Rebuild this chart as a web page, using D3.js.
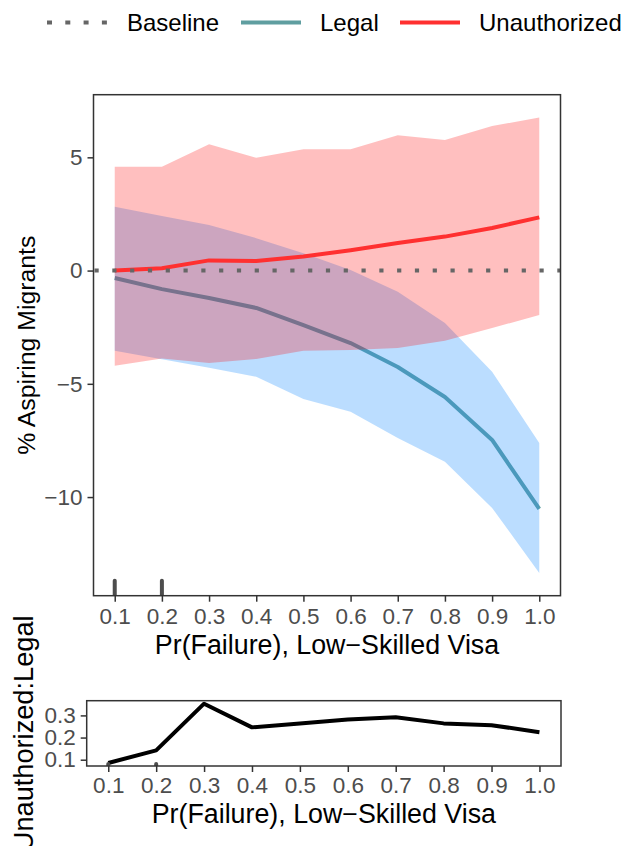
<!DOCTYPE html>
<html>
<head>
<meta charset="utf-8">
<script src="https://cdn.jsdelivr.net/npm/d3@7"></script>
<style>
  html, body { margin: 0; padding: 0; background: #fff; }
  svg { display: block; font-family: "Liberation Sans", Arial, Helvetica, sans-serif; }
</style>
</head>
<body>
<svg id="chart" width="625" height="846"></svg>
<script>
// Probability that a low-skilled visa application fails
const failProb = [0.1, 0.2, 0.3, 0.4, 0.5, 0.6, 0.7, 0.8, 0.9, 1.0];

// Change in % of aspiring migrants, legal route (estimate and interval)
const legalEst   = [-0.33, -0.82, -1.21, -1.65, -2.41, -3.20, -4.26, -5.58, -7.48, -10.52];
const legalLower = [-3.54, -3.92, -4.29, -4.69, -5.67, -6.23, -7.39, -8.44, -10.48, -13.35];
const legalUpper = [2.82, 2.41, 2.01, 1.43, 0.77, 0.02, -0.94, -2.32, -4.47, -7.61];

// Change in % of aspiring migrants, unauthorized route
const unauthEst   = [0.00, 0.10, 0.45, 0.42, 0.62, 0.90, 1.22, 1.50, 1.88, 2.35];
const unauthLower = [-4.20, -3.88, -4.08, -3.90, -3.54, -3.51, -3.42, -3.10, -2.54, -1.96];
const unauthUpper = [4.58, 4.58, 5.58, 4.98, 5.36, 5.36, 5.98, 5.76, 6.38, 6.76];

// Ratio of unauthorized to legal
const ratio = [0.085, 0.142, 0.353, 0.246, 0.264, 0.282, 0.292, 0.264, 0.256, 0.224];

// Rug positions
const rugX = [0.1, 0.2];

// Tick values and labels
const xTicks = [0.1, 0.2, 0.3, 0.4, 0.5, 0.6, 0.7, 0.8, 0.9, 1.0];
const xTickLabels = ["0.1", "0.2", "0.3", "0.4", "0.5", "0.6", "0.7", "0.8", "0.9", "1.0"];
const yTicksTop = [-10, -5, 0, 5];
const yTickLabelsTop = ["\u221210", "\u22125", "0", "5"];
const yTicksBottom = [0.1, 0.2, 0.3];
const yTickLabelsBottom = ["0.1", "0.2", "0.3"];

// Legend entries
const legendLabels = ["Baseline", "Legal", "Unauthorized"];

const baselineValue = 0;

// ---- styling ----
const COL_LEGAL = "#5F9EA0";
const COL_UNAUTH = "#FF3030";
const COL_LEGAL_FILL = "#1E90FF";
const COL_UNAUTH_FILL = "#FF0000";
const COL_BASE = "#666666";
const COL_AXIS = "#333333";
const COL_TICKTXT = "#4D4D4D";
const TICK_FS = 22.5;
const TITLE_FS = 26.8;

const svg = d3.select("#chart");

function expand(lo, hi) {
  const pad = (hi - lo) * 0.05;
  return [lo - pad, hi + pad];
}

const rows = failProb.map((p, i) => ({
  p,
  le: legalEst[i], ll: legalLower[i], lu: legalUpper[i],
  ue: unauthEst[i], ul: unauthLower[i], uu: unauthUpper[i],
  r: ratio[i]
}));

// ---------- main panel ----------
const pTop = { l: 93.5, r: 560.5, t: 94.7, b: 595.7 };
const xTop = d3.scaleLinear().domain(expand(0.1, 1.0)).range([pTop.l, pTop.r]);
const allTop = [...legalLower, ...legalUpper, ...unauthLower, ...unauthUpper, ...legalEst, ...unauthEst];
const yTop = d3.scaleLinear().domain(expand(d3.min(allTop), d3.max(allTop))).range([pTop.b, pTop.t]);

svg.append("clipPath").attr("id", "clipTop")
  .append("rect").attr("x", pTop.l).attr("y", pTop.t)
  .attr("width", pTop.r - pTop.l).attr("height", pTop.b - pTop.t);

const gTop = svg.append("g").attr("clip-path", "url(#clipTop)");

const lineLegal = d3.line().x(d => xTop(d.p)).y(d => yTop(d.le));
const lineUnauth = d3.line().x(d => xTop(d.p)).y(d => yTop(d.ue));
const areaLegal = d3.area().x(d => xTop(d.p)).y0(d => yTop(d.ll)).y1(d => yTop(d.lu));
const areaUnauth = d3.area().x(d => xTop(d.p)).y0(d => yTop(d.ul)).y1(d => yTop(d.uu));

gTop.append("path").datum(rows).attr("d", lineLegal)
  .attr("fill", "none").attr("stroke", COL_LEGAL).attr("stroke-width", 4)
  .attr("stroke-linejoin", "round");
gTop.append("path").datum(rows).attr("d", areaLegal)
  .attr("fill", COL_LEGAL_FILL).attr("fill-opacity", 0.3);
gTop.append("path").datum(rows).attr("d", areaUnauth)
  .attr("fill", COL_UNAUTH_FILL).attr("fill-opacity", 0.25);
gTop.append("path").datum(rows).attr("d", lineUnauth)
  .attr("fill", "none").attr("stroke", COL_UNAUTH).attr("stroke-width", 4)
  .attr("stroke-linejoin", "round");

gTop.append("line")
  .attr("x1", pTop.l + 1).attr("x2", pTop.r)
  .attr("y1", yTop(baselineValue)).attr("y2", yTop(baselineValue))
  .attr("stroke", COL_BASE).attr("stroke-width", 4)
  .attr("stroke-dasharray", "4.2 13.6");

// rug along the bottom of the panel
const rugLenTop = (pTop.b - pTop.t) * 0.03;
gTop.selectAll("line.rug").data(rugX).join("line").attr("class", "rug")
  .attr("x1", d => xTop(d)).attr("x2", d => xTop(d))
  .attr("y1", pTop.b).attr("y2", pTop.b - rugLenTop)
  .attr("stroke", "#4D4D4D").attr("stroke-width", 4).attr("stroke-linecap", "round");

svg.append("rect").attr("x", pTop.l).attr("y", pTop.t)
  .attr("width", pTop.r - pTop.l).attr("height", pTop.b - pTop.t)
  .attr("fill", "none").attr("stroke", COL_AXIS).attr("stroke-width", 1.5);

function styleAxis(g) {
  g.select(".domain").remove();
  g.selectAll(".tick line").attr("stroke", COL_AXIS).attr("stroke-width", 1.5);
  g.selectAll(".tick text").attr("fill", COL_TICKTXT).attr("font-size", TICK_FS)
    .attr("font-family", "Liberation Sans, Arial, sans-serif");
}

svg.append("g").attr("transform", `translate(0,${pTop.b})`)
  .call(d3.axisBottom(xTop).tickValues(xTicks).tickFormat((d, i) => xTickLabels[i])
    .tickSizeOuter(0).tickSize(6).tickPadding(6))
  .call(styleAxis);

svg.append("g").attr("transform", `translate(${pTop.l},0)`)
  .call(d3.axisLeft(yTop).tickValues(yTicksTop).tickFormat((d, i) => yTickLabelsTop[i])
    .tickSizeOuter(0).tickSize(6).tickPadding(5))
  .call(styleAxis);

svg.append("text")
  .attr("x", (pTop.l + pTop.r) / 2).attr("y", 654)
  .attr("text-anchor", "middle").attr("font-size", TITLE_FS).attr("fill", "#000")
  .text("Pr(Failure), Low\u2212Skilled Visa");

svg.append("text")
  .attr("transform", `translate(35,${(pTop.t + pTop.b) / 2}) rotate(-90)`)
  .attr("text-anchor", "middle").attr("font-size", 24.8).attr("fill", "#000")
  .text("% Aspiring Migrants");

// ---------- ratio panel ----------
const pBot = { l: 86.7, r: 561, t: 700.7, b: 766 };
const xBot = d3.scaleLinear().domain(expand(0.1, 1.0)).range([pBot.l, pBot.r]);
const yBot = d3.scaleLinear().domain(expand(d3.min(ratio), d3.max(ratio))).range([pBot.b, pBot.t]);

svg.append("clipPath").attr("id", "clipBot")
  .append("rect").attr("x", pBot.l).attr("y", pBot.t)
  .attr("width", pBot.r - pBot.l).attr("height", pBot.b - pBot.t);
const gBot = svg.append("g").attr("clip-path", "url(#clipBot)");

gBot.append("path").datum(rows)
  .attr("d", d3.line().x(d => xBot(d.p)).y(d => yBot(d.r)))
  .attr("fill", "none").attr("stroke", "#000").attr("stroke-width", 4)
  .attr("stroke-linejoin", "round");

const rugLenBot = (pBot.b - pBot.t) * 0.03;
gBot.selectAll("line.rug").data(rugX).join("line").attr("class", "rug")
  .attr("x1", d => xBot(d)).attr("x2", d => xBot(d))
  .attr("y1", pBot.b).attr("y2", pBot.b - rugLenBot)
  .attr("stroke", "#4D4D4D").attr("stroke-width", 4).attr("stroke-linecap", "round");

svg.append("rect").attr("x", pBot.l).attr("y", pBot.t)
  .attr("width", pBot.r - pBot.l).attr("height", pBot.b - pBot.t)
  .attr("fill", "none").attr("stroke", COL_AXIS).attr("stroke-width", 1.5);

svg.append("g").attr("transform", `translate(0,${pBot.b})`)
  .call(d3.axisBottom(xBot).tickValues(xTicks).tickFormat((d, i) => xTickLabels[i])
    .tickSizeOuter(0).tickSize(6).tickPadding(5))
  .call(styleAxis);

svg.append("g").attr("transform", `translate(${pBot.l},0)`)
  .call(d3.axisLeft(yBot).tickValues(yTicksBottom).tickFormat((d, i) => yTickLabelsBottom[i])
    .tickSizeOuter(0).tickSize(6).tickPadding(5))
  .call(styleAxis);

svg.append("text")
  .attr("x", (pBot.l + pBot.r) / 2).attr("y", 823)
  .attr("text-anchor", "middle").attr("font-size", TITLE_FS).attr("fill", "#000")
  .text("Pr(Failure), Low\u2212Skilled Visa");

svg.append("text")
  .attr("transform", `translate(33,${(pBot.t + pBot.b) / 2}) rotate(-90)`)
  .attr("text-anchor", "middle").attr("font-size", 27.2).attr("fill", "#000")
  .text("Unauthorized:Legal");

// ---------- legend ----------
const legY = 22.5;
const legend = svg.append("g");
const keys = [
  { x: 47, tx: 127, color: COL_BASE, dash: "5 13.3", label: legendLabels[0] },
  { x: 241, tx: 320, color: COL_LEGAL, dash: null, label: legendLabels[1] },
  { x: 400, tx: 479, color: COL_UNAUTH, dash: null, label: legendLabels[2] }
];
keys.forEach(k => {
  const ln = legend.append("line")
    .attr("x1", k.x).attr("x2", k.x + 60).attr("y1", legY).attr("y2", legY)
    .attr("stroke", k.color).attr("stroke-width", 4);
  if (k.dash) ln.attr("stroke-dasharray", k.dash);
  legend.append("text").attr("x", k.tx).attr("y", legY)
    .attr("dy", "0.35em").attr("font-size", 24).attr("fill", "#000")
    .text(k.label);
});
</script>
</body>
</html>
